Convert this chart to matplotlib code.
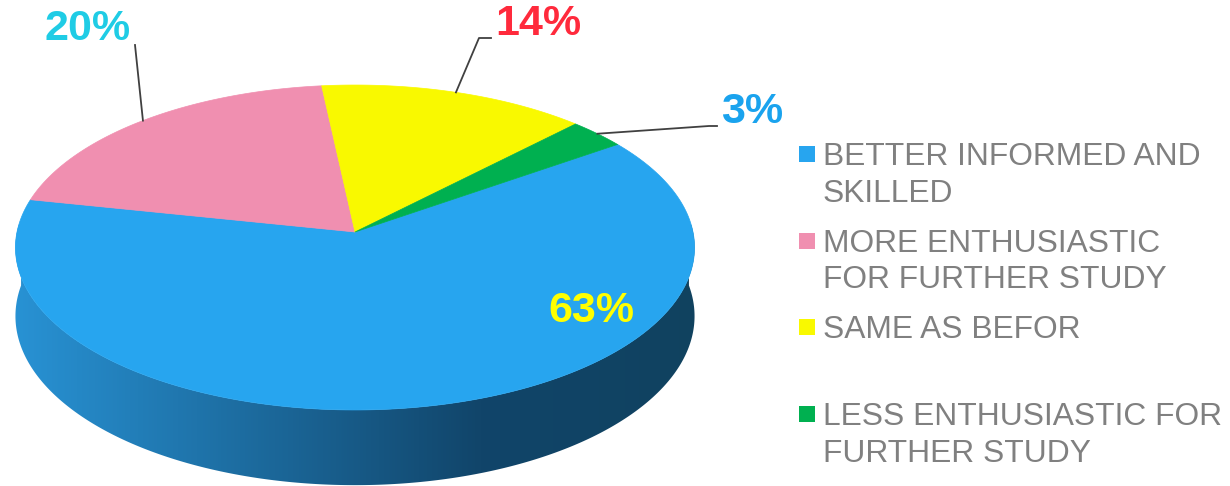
import numpy as np
import matplotlib
matplotlib.use("Agg")
import matplotlib.pyplot as plt
from matplotlib.patches import Polygon, Rectangle
from matplotlib.colors import LinearSegmentedColormap

# data
categories = ["BETTER INFORMED AND\nSKILLED",
              "MORE ENTHUSIASTIC\nFOR FURTHER STUDY",
              "SAME AS BEFOR",
              "LESS ENTHUSIASTIC FOR\nFURTHER STUDY"]
shares = [63, 20, 14, 3]
pct_labels = ["63%", "20%", "14%", "3%"]

slice_colors = ['#27A5EF', '#F08FB0', '#F9F900', '#00B050']
label_colors = ['#FFFF00', '#1FCCE5', '#FF2A3C', '#1AA3EE']

# label centres and leader elbows (pixel coords)
label_pos = [(591, 311), (88, 29), (538, 24), (752, 112)]
leader_pts = [[], [(135, 45)], [(479, 38), (491, 38)], [(709, 126), (717, 126)]]

# pie geometry in pixels
cx, cy = 355, 232
rx, ry = 338, 161
persp = 0.0954
depth = 68
start = 35.0


def rim(theta_deg, drop=0.0):
    t = np.radians(theta_deg)
    s = 1.0 / (1.0 + persp * np.sin(t))
    return cx + rx * np.cos(t) * s, cy - ry * np.sin(t) * s + drop * s


fig = plt.figure(figsize=(12.3, 4.86), dpi=100)
ax = fig.add_axes([0, 0, 1, 1])
ax.set_xlim(0, 1230)
ax.set_ylim(486, 0)
ax.axis('off')

# side wall with gradient
th = np.linspace(175, 365, 400)
tx, ty = rim(th)
bx, by = rim(th[::-1], depth)
side = Polygon(np.column_stack([np.r_[tx, bx], np.r_[ty, by]]),
               closed=True, facecolor='none', edgecolor='none')
ax.add_patch(side)
side_cmap = LinearSegmentedColormap.from_list(
    'side', [(0, '#2892D4'), (0.68, '#11456A'), (1, '#10425F')])
grad = np.linspace(0, 1, 512).reshape(1, -1)
img = ax.imshow(grad, cmap=side_cmap, extent=(15, 700, 495, 225),
                aspect='auto', zorder=1)
img.set_clip_path(side)

# top face
total = float(sum(shares))
edges = start - 360.0 * np.r_[0, np.cumsum(shares)] / total
for i, val in enumerate(shares):
    t = np.linspace(edges[i], edges[i + 1], 200)
    x, y = rim(t)
    poly = Polygon(np.column_stack([np.r_[cx, x], np.r_[cy, y]]), closed=True,
                   facecolor=slice_colors[i], edgecolor=slice_colors[i],
                   linewidth=0.5, zorder=2)
    ax.add_patch(poly)

# data labels with leader lines
for i, lab in enumerate(pct_labels):
    if leader_pts[i]:
        mid = (edges[i] + edges[i + 1]) / 2
        mx, my = rim(mid)
        pts = [(mx, my)] + leader_pts[i]
        ax.plot([p[0] for p in pts], [p[1] for p in pts], color='#404040',
                lw=1.3, zorder=3)
    ax.text(label_pos[i][0], label_pos[i][1], lab, color=label_colors[i],
            fontsize=31, fontweight='bold', family='Liberation Sans',
            ha='center', va='center', zorder=4)

# legend
for i, cat in enumerate(categories):
    base = 165 + 86.7 * i
    ax.add_patch(Rectangle((799, base - 19), 16, 16, facecolor=slice_colors[i],
                           edgecolor='none'))
    for j, line in enumerate(cat.split('\n')):
        ax.text(823, base + 36.5 * j, line, color='#808080', fontsize=22.9,
                family='Liberation Sans', ha='left', va='baseline')

fig.savefig('out.png', dpi=100)
